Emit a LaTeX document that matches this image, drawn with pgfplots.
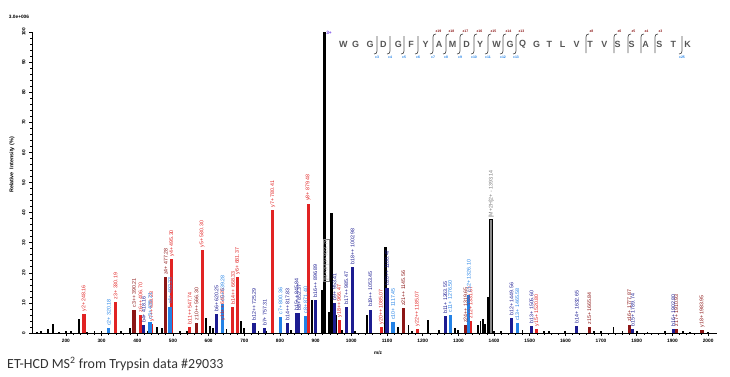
\documentclass[border=0pt]{standalone}
\usepackage{pgfplots}
\pgfplotsset{compat=1.18}
\usepackage{fontspec}
\setmainfont{Liberation Sans}
\newfontfamily\calib{Carlito}
\definecolor{cred}{RGB}{225,35,35}
\definecolor{cdred}{RGB}{140,22,22}
\definecolor{cnavy}{RGB}{28,28,145}
\definecolor{cblue}{RGB}{35,130,230}
\definecolor{cgrey}{RGB}{120,120,120}
\definecolor{cseq}{RGB}{85,85,85}
\definecolor{cviol}{RGB}{110,60,230}
\newcommand{\lblfont}{\fontsize{5.3}{5.5}\selectfont}
\pgfplotsset{
  peaklab/.style={nodes near coords, point meta=explicit symbolic,
    every node near coord/.style={rotate=90, anchor=west, inner sep=1bp, font=\lblfont, text=#1}},
}
\begin{document}
\begin{tikzpicture}
\begin{axis}[
  at={(0,0)}, anchor=south west,
  width=685bp, height=301bp, scale only axis,
  xmin=105, xmax=2025, ymin=0, ymax=100,
  axis x line*=bottom, axis y line*=left,
  axis line style={-, line width=0.8bp},
  clip=false,
  tick align=outside,
  xtick={200,300,...,2000}, minor x tick num=4,
  ytick={0,10,...,100}, minor y tick num=4,
  major tick length=3bp, minor tick length=1.6bp,
  every tick/.style={black, line width=0.6bp},
  /pgf/number format/assume math mode=true,
  /pgf/number format/1000 sep={},
  xticklabel style={font=\fontsize{4.8}{5}\selectfont\bfseries, yshift=0.5bp},
  yticklabel style={font=\fontsize{4.8}{5}\selectfont\bfseries, rotate=90, anchor=south, xshift=0bp},
]
% small black peaks
\addplot[ycomb, black, line width=1.8bp] table {
x y
118 0.5
130 0.7
150 1.2
163 3.0
180 0.5
200 0.8
215 0.6
236 4.5
260 0.5
280 0.8
300 0.6
355 0.7
380 1.5
430 0.8
455 2.0
470 1.5
520 0.8
540 0.6
592 5.0
605 2.3
612 1.8
650 1.2
690 4.0
700 1.5
740 0.6
760 0.8
830 1.0
889 11
918 14.3
937 7
958 6
975 1.0
1010 0.8
1045 6
1130 2
1160 2.5
1170 0.8
1216 4.4
1245 1.0
1290 1.5
1300 1.0
1355 2.5
1362 4
1368 4.5
1374 3
1382 11.8
1400 0.8
1420 0.8
1480 1.0
1540 0.6
1555 0.8
1600 0.6
1680 0.8
1700 0.6
1735 2.0
1760 0.8
1800 0.6
1830 0.5
1880 0.7
1930 0.6
1950 0.5
2000 0.4
};
% big black peaks
\addplot[ycomb, black, line width=3.2bp] table {
x y
925 100
945 39.8
1095 28.7
};
% precursor 2+ (grey)
\addplot[ycomb, black, line width=4bp] table {
x y
1392 38
};
\addplot[ycomb, cgrey!85, line width=2.4bp, peaklab=cgrey] table[col sep=comma, meta=lab] {
x,y,lab
1392,37.6,[M+2H]2+ - 1393.14
};
% red y ions
\addplot[ycomb, cred, line width=3.2bp, peaklab=cred] table[col sep=comma, meta=lab] {
x,y,lab
251,6.3,y2+ 248.16
339,10.4,z3+ 330.19
409,6.0,z6++ 406.70
441,3.0,y7++ 438.23
497,24.6,y4+ 495.30
547,2.0,b11++ 547.74
582,27.6,y5+ 580.30
640,3.4,y11++ 640.35
668,8.7,b14++ 668.33
681,18.7,y6+ 681.37
780,40.9,y7+ 780.41
879,43,y8+ 879.48
967,4.4,y18++ 966.47
1084,2.0,y20++ 1085.07
1185,1.3,y22++ 1185.07
1334,4.0,z12+ 1331.67
1520,1.3,y15+ 1520.80
};
% dark red z ions
\addplot[ycomb, cdred, line width=3.2bp, peaklab=cdred] table[col sep=comma, meta=lab] {
x,y,lab
391,7.6,c3++ 390.21
480,18.5,z4+ 477.28
566,3.4,z10++ 566.30
1146,8.2,z21++ 1145.56
1320,2.5,z24++ 1319.65
1667,2.0,z15+ 1665.84
1779,2.8,z16+ 1777.87
1911,1.3,z17+ 1910.93
1983,1.0,y18+ 1983.95
};
% navy b ions
\addplot[ycomb, cnavy, line width=3.2bp, peaklab=cnavy] table[col sep=comma, meta=lab] {
x,y,lab
418,2.5,b4+ 418.16
622,6.2,b6+ 620.25
727,3.2,b12++ 725.29
757,1.5,b7+ 757.31
821,3.2,b14++ 817.83
846,6.5,b15++ 845.84
853,6.5,b8+ 852.37
899,11,b16++ 896.89
953,10.1,b9+ 953.41
986,8.6,b17++ 985.47
1003,22,b18++ 1002.98
1053,7.8,b19++ 1053.45
1100,15,b20++ 1100.47
1263,5.5,b11+ 1263.55
1449,5.0,b12+ 1449.56
1505,2.4,b13+ 1505.60
1632,2.4,b14+ 1632.65
1789,1.3,b15+ 1789.74
1902,1.2,b16+ 1902.80
};
% light blue c ions
\addplot[ycomb, cblue, line width=3.2bp, peaklab=cblue] table[col sep=comma, meta=lab] {
x,y,lab
320,1.5,c2+ 320.18
436,3.7,c3+ 435.21
492,8.8,c4+ 492.23
639,9.6,c5+ 639.28
802,5.4,c7+ 800.36
872,5.7,c8+ 871.40
1117,3.5,c10+ 1117.45
1277,6.0,c11+ 1276.50
1329,12.7,c12+ 1326.10
1465,3.2,c13+ 1465.58
};
\node[rotate=90, anchor=west, draw=cgrey, inner sep=0.8bp, font=\lblfont, text=cgrey!60] at (axis cs:929,17) {[M+3H]3+ 923.78};
\end{axis}
\begin{scope}[x=1bp,y=-1bp,shift={(-32bp,333bp)}]
\path[use as bounding box] (0,0) rectangle (730,376);
% labels
\node[font=\fontsize{4.8}{5}\selectfont\bfseries] at (19,17) {3.0e+006};
\node[font=\fontsize{5.4}{6}\selectfont\bfseries, rotate=90] at (12,165) {Relative\ \ Intensity (\%)};
\node[font=\fontsize{4.8}{5}\selectfont\bfseries] at (378,353) {m/z};
\node[font=\calib\fontsize{14}{16}\selectfont, text=black!80, anchor=west, inner sep=0pt] at (7,364) {ET-HCD MS\textsuperscript{2} from Trypsin data \#29033};
% sequence
\node[font=\fontsize{4.8}{5}\selectfont\bfseries, text=cviol] at (329,33) {3+};
\foreach \x/\l in {343.3/W,355.7/G,370/G,383.3/D,398.3/G,411/F,425.7/Y,439/A,452.7/M,466.7/D,480/Y,496.7/W,510/G,522.7/Q,536.7/G,549.3/T,562.7/L,576.7/V,590/T,604.3/V,617.7/S,631.7/S,645.7/A,659.3/S,673.3/T,687.7/K}
  \node[font=\fontsize{9}{10}\selectfont\bfseries, text=cseq, inner sep=0pt] at (\x,44) {\l};
\foreach \x in {377,390,404,418,682}
  \draw[cseq, line width=0.7bp] (\x,36) -- (\x,51) .. controls (\x,53) and (\x-1,54) .. (\x-3,54);
\foreach \x in {433,446,460,474,488,503,516}
  \draw[cseq, line width=0.7bp] (\x+3,34) .. controls (\x+1,34) and (\x,35) .. (\x,37) -- (\x,51) .. controls (\x,53) and (\x-1,54) .. (\x-3,54);
\foreach \x in {586,614,628,641,655}
  \draw[cseq, line width=0.7bp] (\x+3,34) .. controls (\x+1,34) and (\x,35) .. (\x,37) -- (\x,53);
\foreach \x/\l in {377/c3,390/c4,404/c5,418/c6,433/c7,446/c8,460/c9,474/c10,488/c11,503/c12,516/c13,682/c25}
  \node[font=\fontsize{3.5}{4}\selectfont\bfseries, text=cblue, inner sep=0pt] at (\x,57) {\l};
\foreach \x/\l in {433/z19,446/z18,460/z17,474/z16,488/z15,503/z14,516/z13,586/z8,614/z6,628/z5,641/z4,655/z3}
  \node[font=\fontsize{3.5}{4}\selectfont\bfseries, text=cdred, inner sep=0pt] at (\x+5.5,31.5) {\l};
\end{scope}
\end{tikzpicture}
\end{document}
